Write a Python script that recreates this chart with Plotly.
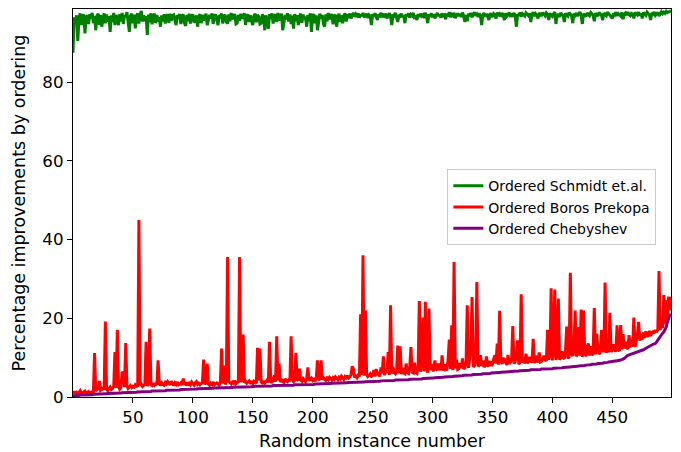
import plotly.graph_objects as go

instances = list(range(0, 500))

schmidt = [
87.5,96.5,95.0,97.0,90.5,96.0,97.5,94.5,96.8,97.2,
92.4,96.5,97.0,94.8,97.3,96.2,97.6,95.0,96.8,93.2,
96.9,97.4,94.6,97.1,94.1,96.4,97.5,95.0,97.2,95.4,
96.8,92.8,97.0,95.3,97.6,94.5,97.1,96.2,94.5,97.3,
95.4,97.6,94.8,97.0,96.5,97.8,95.2,92.8,96.9,97.4,
95.0,97.2,93.7,96.8,97.5,94.9,97.1,98.1,95.4,97.0,
95.5,96.8,92.0,97.2,95.3,97.5,94.7,96.9,97.4,95.0,
97.1,95.4,96.6,94.1,97.0,95.4,97.3,94.9,96.8,97.2,
95.1,97.4,95.6,96.9,97.1,95.3,94.5,97.0,96.6,97.3,
94.8,96.9,97.2,95.0,94.3,97.1,95.5,97.4,94.9,96.8,
97.2,95.2,95.5,97.0,94.1,96.7,97.3,95.0,97.1,95.7,
96.8,97.4,94.5,95.6,97.1,96.2,97.5,94.8,96.9,97.2,
95.4,94.5,97.0,96.7,97.4,94.9,96.8,97.1,95.3,94.9,
97.2,95.5,97.6,96.0,96.9,97.3,94.8,95.0,97.1,95.6,
97.4,96.1,96.9,97.5,94.6,96.8,97.2,95.3,97.0,95.9,
94.5,96.9,97.4,95.2,97.1,96.6,94.8,95.0,97.2,96.7,
93.2,97.0,95.4,93.6,97.3,96.1,97.5,94.9,96.8,97.2,
95.3,97.6,95.7,96.9,97.4,93.2,95.6,97.1,96.0,97.5,
95.4,97.2,94.8,96.9,93.6,97.3,95.5,97.0,94.5,96.8,
97.4,95.1,97.2,95.9,96.7,94.1,97.1,95.4,97.5,92.8,
96.8,97.3,95.0,97.0,93.2,95.6,97.4,96.2,97.1,94.8,
94.1,97.2,95.5,97.6,96.0,96.9,97.3,94.7,96.8,97.1,
94.1,96.7,97.4,95.3,97.0,95.0,96.9,97.5,95.4,97.2,
96.8,97.4,96.2,97.1,97.6,96.6,97.3,96.9,97.5,96.4,
97.2,96.8,97.6,96.5,97.0,97.4,96.3,97.1,96.8,94.5,
97.3,96.7,97.5,96.4,95.8,97.2,96.9,97.6,96.5,97.1,
96.8,97.4,96.2,97.0,97.5,96.6,94.5,97.2,96.9,97.6,
96.3,95.3,97.1,96.8,97.4,96.5,97.0,95.0,97.3,96.7,
97.5,96.4,97.2,96.9,97.6,96.1,97.0,95.8,97.3,96.6,
97.4,96.8,97.1,96.3,97.6,96.9,95.0,97.2,96.7,97.5,
96.5,97.3,96.2,97.0,97.6,96.8,97.2,96.4,97.5,96.9,
97.1,96.0,97.4,96.7,97.8,96.5,97.2,96.9,97.6,96.3,
97.0,97.5,96.8,97.3,96.6,97.7,96.9,95.3,97.1,95.5,
97.4,96.8,97.6,96.5,97.2,97.8,96.9,97.3,96.6,97.5,
96.9,94.5,97.1,97.6,96.7,97.3,96.8,95.8,97.5,97.0,
96.6,97.4,97.1,96.2,97.7,96.9,97.3,96.7,97.6,97.0,
95.8,97.5,96.8,97.2,97.7,96.6,97.4,97.0,97.6,96.8,
94.1,97.3,96.9,97.7,96.7,97.4,97.1,96.8,97.6,97.2,
96.9,97.5,95.3,97.2,97.8,96.8,97.4,97.0,96.2,97.6,
97.1,96.8,97.7,97.3,96.9,97.6,97.2,95.8,97.5,97.0,
96.7,97.4,97.8,94.8,97.3,97.0,96.6,97.6,97.2,96.9,
95.3,97.5,97.1,96.8,97.7,97.3,96.9,95.0,97.4,97.0,
97.6,96.8,97.3,97.8,97.0,94.8,97.4,97.1,96.7,97.6,
97.2,96.9,97.7,97.3,97.0,95.5,97.5,97.2,96.8,97.7,
97.3,97.0,95.8,97.6,97.2,96.9,97.8,97.4,97.0,96.7,
96.2,97.5,97.1,97.8,96.9,97.4,97.2,96.8,97.7,96.0,
97.3,97.6,97.0,97.8,97.2,96.9,97.5,97.3,96.2,97.7,
97.4,97.1,97.8,96.9,97.5,96.2,97.7,97.3,97.0,97.8,
97.4,97.1,95.8,97.6,97.3,97.8,97.0,97.5,97.7,96.8,
97.6,97.9,97.4,97.8,97.5,98.0,97.7,97.9,98.0,98.1,
]

boros_prekopa = [
0.8,1.4,0.9,1.2,0.7,1.1,1.6,1.0,0.9,1.3,
1.5,1.1,1.0,1.4,1.2,1.0,1.3,1.1,11.2,1.6,
1.8,2.2,4.1,1.7,1.9,2.4,1.8,19.2,2.0,1.6,
2.1,2.5,1.9,2.2,2.8,11.4,2.3,17.1,2.6,2.0,
2.4,6.4,6.0,2.5,13.7,3.0,2.2,2.6,2.9,2.4,
2.7,2.5,3.1,2.8,2.6,45.0,2.9,3.3,2.7,3.0,
3.2,14.0,2.8,3.4,17.4,3.1,2.9,3.5,3.0,3.3,
3.1,9.3,3.4,2.9,3.6,3.2,3.0,3.7,3.3,3.9,
3.5,3.1,4.0,3.4,2.9,3.6,3.2,3.8,3.1,3.3,
3.6,3.0,4.7,3.4,3.2,3.7,2.9,3.5,3.1,3.8,
3.3,3.0,3.6,3.9,3.2,3.5,3.1,3.4,3.7,9.5,
3.2,3.6,8.5,3.3,3.0,3.5,3.2,3.8,3.1,3.4,
3.6,3.3,3.0,3.9,12.3,3.4,8.0,3.2,4.1,35.6,
4.0,3.6,3.3,3.8,3.5,4.2,3.4,3.7,3.9,35.6,
3.8,4.3,15.9,3.6,4.0,3.5,3.9,4.1,3.6,3.8,
3.4,4.0,3.7,3.5,12.5,4.2,12.3,3.8,3.6,4.1,
3.5,3.9,4.3,3.7,14.0,4.0,3.6,4.4,5.5,3.9,
15.4,4.2,8.5,3.8,4.5,4.0,3.7,4.6,4.1,3.9,
4.3,4.0,15.4,4.4,3.9,4.2,11.2,4.5,4.1,7.2,
4.3,4.0,4.7,4.2,3.9,4.6,7.5,4.1,4.4,4.8,
4.2,4.5,4.0,4.7,9.3,4.3,4.6,9.3,4.4,4.9,
4.5,4.2,4.8,4.4,5.0,4.6,4.3,4.9,4.5,5.1,
4.7,4.4,5.0,4.6,5.3,4.8,4.5,5.2,4.9,5.4,
4.8,5.1,5.6,7.8,7.2,5.0,5.3,4.9,5.5,5.2,
21.0,5.6,36.0,5.4,22.0,5.7,5.2,5.5,5.9,5.3,
5.6,6.8,5.2,7.1,5.5,6.4,5.2,7.5,6.0,10.3,
5.5,7.2,6.1,11.4,5.6,23.3,6.0,7.7,6.2,5.9,
6.8,13.1,6.0,12.9,5.8,7.4,6.1,5.9,8.5,6.2,
6.0,7.6,12.7,6.3,6.1,8.7,6.2,6.0,7.8,24.4,
6.4,8.9,20.2,6.5,24.2,7.7,6.2,22.5,6.8,8.4,
7.0,6.6,9.3,7.1,6.8,8.5,7.2,6.9,10.6,6.7,
8.3,6.9,7.0,9.4,14.6,7.1,18.2,6.8,34.3,7.3,
9.5,7.0,7.2,8.6,7.3,9.8,7.1,7.5,8.9,23.3,
7.4,9.7,12.7,25.4,7.6,8.0,9.3,29.2,7.8,8.1,
10.6,7.9,9.2,7.6,8.0,10.3,7.7,8.4,9.1,7.9,
8.3,9.6,10.6,8.5,13.6,8.2,21.9,9.3,8.4,10.0,
8.6,9.8,8.1,10.7,8.4,8.8,9.7,18.0,8.5,8.9,
10.6,14.4,8.3,8.8,26.1,8.7,10.0,8.5,11.0,8.6,
8.9,10.2,9.1,8.8,14.8,8.6,10.5,9.2,8.8,11.3,
8.9,9.1,9.6,10.5,9.4,9.2,17.1,9.5,11.1,27.6,
9.3,11.7,27.3,9.4,10.8,25.0,9.5,9.9,11.6,10.0,
9.7,12.1,17.9,9.8,10.2,31.6,11.0,10.4,12.1,22.0,
10.3,11.0,17.8,10.5,22.2,10.2,22.0,11.6,10.3,12.7,
13.6,10.5,12.9,10.6,11.0,22.6,10.8,16.1,12.1,10.9,
11.3,17.0,12.0,11.4,29.1,11.2,13.6,11.3,21.4,11.5,
11.8,13.4,11.9,11.6,18.2,12.0,11.7,18.3,12.1,16.0,
12.3,14.0,12.5,12.2,15.7,12.6,14.4,12.8,20.2,12.7,
14.1,15.9,19.1,14.3,16.0,14.6,16.4,15.0,16.7,15.3,
15.6,16.8,15.5,16.4,16.6,16.2,17.0,16.5,17.2,32.0,
17.0,18.7,17.5,25.9,18.5,24.6,19.2,25.5,22.0,25.5,
]

chebyshev = [
0.3,0.3,0.4,0.4,0.4,0.4,0.5,0.5,0.5,0.5,
0.5,0.5,0.6,0.6,0.6,0.6,0.6,0.7,0.7,0.7,
0.7,0.7,0.7,0.8,0.8,0.8,0.8,0.8,0.8,0.9,
0.9,0.9,0.9,0.9,0.9,1.0,1.0,1.0,1.0,1.0,
1.0,1.1,1.1,1.1,1.1,1.1,1.1,1.2,1.2,1.2,
1.2,1.2,1.2,1.2,1.3,1.3,1.3,1.3,1.3,1.3,
1.4,1.4,1.4,1.4,1.4,1.4,1.5,1.5,1.5,1.5,
1.5,1.5,1.6,1.6,1.6,1.6,1.6,1.6,1.7,1.7,
1.7,1.7,1.7,1.7,1.8,1.8,1.8,1.8,1.8,1.8,
1.9,1.9,1.9,1.9,1.9,1.9,1.9,2.0,2.0,2.0,
2.0,2.0,2.0,2.0,2.1,2.1,2.1,2.1,2.1,2.1,
2.1,2.2,2.2,2.2,2.2,2.2,2.2,2.2,2.3,2.3,
2.3,2.3,2.3,2.3,2.3,2.3,2.4,2.4,2.4,2.4,
2.4,2.4,2.4,2.4,2.5,2.5,2.5,2.5,2.5,2.5,
2.5,2.5,2.6,2.6,2.6,2.6,2.6,2.6,2.6,2.6,
2.7,2.7,2.7,2.7,2.7,2.7,2.7,2.7,2.8,2.8,
2.8,2.8,2.8,2.8,2.8,2.8,2.8,2.9,2.9,2.9,
2.9,2.9,2.9,2.9,2.9,2.9,3.0,3.0,3.0,3.0,
3.0,3.0,3.0,3.0,3.0,3.1,3.1,3.1,3.1,3.1,
3.1,3.1,3.1,3.1,3.2,3.2,3.2,3.2,3.2,3.2,
3.2,3.2,3.3,3.3,3.3,3.3,3.3,3.3,3.3,3.4,
3.4,3.4,3.4,3.4,3.4,3.4,3.5,3.5,3.5,3.5,
3.5,3.5,3.5,3.6,3.6,3.6,3.6,3.6,3.6,3.6,
3.7,3.7,3.7,3.7,3.7,3.7,3.7,3.8,3.8,3.8,
3.8,3.8,3.8,3.8,3.9,3.9,3.9,3.9,3.9,3.9,
3.9,4.0,4.0,4.0,4.0,4.0,4.0,4.1,4.1,4.1,
4.1,4.1,4.1,4.2,4.2,4.2,4.2,4.2,4.2,4.3,
4.3,4.3,4.3,4.3,4.3,4.4,4.4,4.4,4.4,4.4,
4.4,4.5,4.5,4.5,4.5,4.5,4.5,4.6,4.6,4.6,
4.6,4.6,4.7,4.7,4.7,4.7,4.7,4.8,4.8,4.8,
4.8,4.8,4.9,4.9,4.9,4.9,5.0,5.0,5.0,5.0,
5.1,5.1,5.1,5.1,5.2,5.2,5.2,5.2,5.3,5.3,
5.3,5.3,5.4,5.4,5.4,5.4,5.5,5.5,5.5,5.5,
5.6,5.6,5.6,5.6,5.7,5.7,5.7,5.7,5.8,5.8,
5.8,5.8,5.9,5.9,5.9,6.0,6.0,6.0,6.0,6.1,
6.1,6.1,6.1,6.2,6.2,6.2,6.2,6.3,6.3,6.3,
6.3,6.4,6.4,6.4,6.4,6.5,6.5,6.5,6.5,6.6,
6.6,6.6,6.6,6.7,6.7,6.7,6.7,6.8,6.8,6.8,
6.8,6.8,6.9,6.9,6.9,6.9,7.0,7.0,7.0,7.0,
7.0,7.1,7.1,7.1,7.1,7.1,7.2,7.2,7.2,7.2,
7.2,7.3,7.3,7.3,7.3,7.4,7.4,7.4,7.4,7.5,
7.5,7.5,7.5,7.6,7.6,7.6,7.7,7.7,7.7,7.8,
7.8,7.8,7.9,7.9,7.9,8.0,8.0,8.0,8.1,8.1,
8.1,8.2,8.2,8.3,8.3,8.3,8.4,8.4,8.5,8.5,
8.5,8.6,8.6,8.7,8.7,8.8,8.8,8.9,8.9,9.0,
9.0,9.1,9.1,9.2,9.2,9.3,9.3,9.4,9.5,9.6,
9.8,10.1,10.4,10.6,10.7,10.8,10.9,11.0,11.1,11.2,
11.3,11.4,11.5,11.6,11.7,11.9,12.0,12.2,12.4,12.6,
12.8,13.0,13.1,13.3,13.4,13.5,13.6,14.0,14.5,15.0,
15.4,15.8,16.2,16.5,17.0,17.8,19.0,20.3,20.8,21.0,
]

series_names = ["Ordered Schmidt et.al.", "Ordered Boros Prekopa", "Ordered Chebyshev"]
series_colors = ["#008000", "#ff0000", "#800080"]
x_ticks = [50, 100, 150, 200, 250, 300, 350, 400, 450]
y_ticks = [0, 20, 40, 60, 80]

font_family = "DejaVu Sans"

fig = go.Figure()
for name, vals, col in zip(series_names, [schmidt, boros_prekopa, chebyshev], series_colors):
    fig.add_trace(go.Scatter(x=instances, y=vals, mode="lines", name=name,
                             line=dict(color=col, width=3)))

axis_common = dict(showgrid=False, zeroline=False, showline=True, linecolor="black",
                   linewidth=1.2, mirror=True, ticks="outside", ticklen=5, tickwidth=1.2,
                   tickcolor="black", automargin=False,
                   tickfont=dict(family=font_family, size=16.7, color="black"))

fig.update_layout(
    width=681, height=452,
    margin=dict(l=73, r=10, t=9, b=55),
    paper_bgcolor="white", plot_bgcolor="white",
    font=dict(family=font_family, color="black"),
    xaxis=dict(range=[0, 499], tickvals=x_ticks,
               title=dict(text="Random instance number", font=dict(family=font_family, size=17.5), standoff=8),
               **axis_common),
    yaxis=dict(range=[0, 98.6], tickvals=y_ticks,
               title=dict(text="Percentage improvements by ordering", font=dict(family=font_family, size=17.5), standoff=12),
               **axis_common),
    legend=dict(x=0.626, y=0.587, xanchor="left", yanchor="top",
                bgcolor="rgba(255,255,255,0.8)", bordercolor="#cccccc", borderwidth=1,
                font=dict(family=font_family, size=14), tracegroupgap=0, itemwidth=30),
    showlegend=True,
)

fig.write_html("out.html")
